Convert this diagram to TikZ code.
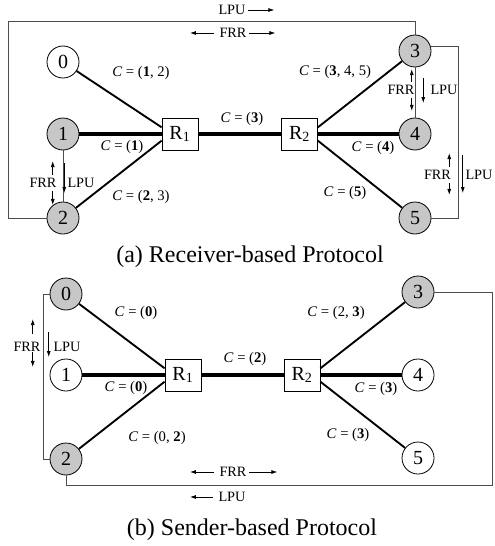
\documentclass[tikz,border=0pt]{standalone}
\usepackage{fontspec}
\setmainfont{Liberation Serif}
\usepackage{xcolor}
\usepackage{tikz}
\usetikzlibrary{arrows.meta}

\begin{document}
\begin{tikzpicture}[x=0.75pt,y=-0.75pt,
    host/.style={circle,draw,line width=0.6pt,minimum size=24pt,inner sep=0pt,fill=white,font=\fontsize{15}{15}\selectfont},
    busy/.style={host,fill=black!22},
    router/.style={rectangle,draw,line width=0.6pt,minimum width=27pt,minimum height=24pt,inner sep=0pt,fill=white,font=\fontsize{15}{15}\selectfont},
    lnk/.style={line width=1.4pt},
    trunk/.style={line width=2.4pt},
    frame/.style={line width=0.7pt,black!70},
    clab/.style={inner sep=0pt,font=\fontsize{11}{11}\selectfont},
    tag/.style={inner sep=0pt,font=\fontsize{10.7}{11}\selectfont},
    sarr/.style={line width=0.6pt,-{Latex[length=4.5pt,width=3pt]}},
    captext/.style={inner sep=0pt,font=\fontsize{18}{18}\selectfont}]
    \useasboundingbox (0,0) rectangle (494,546);

    \node[host] (a0) at (63,62) {0};
    \node[busy] (a1) at (63,134) {1};
    \node[busy] (a2) at (63,218) {2};
    \node[busy] (a3) at (415,51) {3};
    \node[busy] (a4) at (415,134) {4};
    \node[busy] (a5) at (415,218) {5};
    \node[router] (ra1) at (180,134) {R\textsubscript{1}};
    \node[router] (ra2) at (299.5,134) {R\textsubscript{2}};

    \coordinate (ka) at (8,21);
    \draw[frame] (a2) -| (ka) -| (a3);
    \draw[frame] (a1) -- (a2);
    \draw[frame] (a3) -- (a4);
    \draw[frame] (a3.15) -- ++(28,0) |- (a5);

    \draw[lnk] (a0) -- (ra1.160);
    \draw[lnk] (a2) -- (ra1.200);
    \draw[lnk] (ra2.20) -- (a3);
    \draw[lnk] (ra2.-20) -- (a5);
    \draw[trunk] (a1) -- (ra1) -- (ra2) -- (a4);

    \node[clab] at (141,73) {\textit{C} = (\textbf{1}, 2)};
    \node[clab] at (122,147) {\textit{C} = (\textbf{1})};
    \node[clab] at (141,197) {\textit{C} = (\textbf{2}, 3)};
    \node[clab] at (242,119) {\textit{C} = (\textbf{3})};
    \node[clab] at (335,72) {\textit{C} = (\textbf{3}, 4, 5)};
    \node[clab] at (373,148) {\textit{C} = (\textbf{4})};
    \node[clab] at (345,193) {\textit{C} = (\textbf{5})};

    \node[tag] (lputa) at (232,10) {LPU};
    \draw[sarr] ([xshift=2pt]lputa.east) -- ++(26,0);
    \node[tag] (frrta) at (233,33) {FRR};
    \draw[sarr] ([xshift=2pt]frrta.east) -- ++(26,0);
    \draw[sarr] ([xshift=-4pt]frrta.west) -- ++(-24,0);

    \node[tag] (frr12) at (43,183) {FRR};
    \draw[sarr] ([shift={(-4,-3)}]frr12.north east) -- ++(0,-14);
    \draw[sarr] ([shift={(-4,3)}]frr12.south east) -- ++(0,14);
    \node[tag] (lpu12) at (81,183) {LPU};
    \draw[sarr] ([shift={(-3,-20)}]lpu12.west) -- ++(0,30);

    \node[tag] (frr34) at (401,90) {FRR};
    \draw[sarr] ([shift={(-3,-3)}]frr34.north east) -- ++(0,-13);
    \draw[sarr] ([shift={(-3,3)}]frr34.south east) -- ++(0,13);
    \node[tag] (lpu34) at (444,90) {LPU};
    \draw[sarr] ([shift={(-7,-12)}]lpu34.west) -- ++(0,25);

    \node[tag] (frr45) at (437.5,175) {FRR};
    \draw[sarr] ([shift={(-2,-3)}]frr45.north east) -- ++(0,-14);
    \draw[sarr] ([shift={(-2,3)}]frr45.south east) -- ++(0,12);
    \node[tag] (lpu45) at (479,175) {LPU};
    \draw[sarr] ([shift={(-2.5,-20)}]lpu45.west) -- ++(0,38);

    \node[captext] (capa) at (250,257) {(a) Receiver-based Protocol};

    \node[busy] (b0) at (66,294) {0};
    \node[host] (b1) at (66,375) {1};
    \node[busy] (b2) at (66,459) {2};
    \node[busy] (b3) at (418,292) {3};
    \node[host] (b4) at (418,375) {4};
    \node[host] (b5) at (418,458) {5};
    \node[router] (rb1) at (183,375) {R\textsubscript{1}};
    \node[router] (rb2) at (302,375) {R\textsubscript{2}};

    \coordinate (kb) at (43,459);
    \coordinate (kc) at (492,485);
    \draw[frame] (b0) -| (kb) -- (b2);
    \draw[frame] (b2) |- (kc) |- (b3);

    \draw[lnk] (b0) -- (rb1.160);
    \draw[lnk] (b2) -- (rb1.200);
    \draw[lnk] (rb2.20) -- (b3);
    \draw[lnk] (rb2.-20) -- (b5);
    \draw[trunk] (b1) -- (rb1) -- (rb2) -- (b4);

    \node[clab] at (136,313) {\textit{C} = (\textbf{0})};
    \node[clab] at (126,388) {\textit{C} = (\textbf{0})};
    \node[clab] at (157,438) {\textit{C} = (0, \textbf{2})};
    \node[clab] at (245,359) {\textit{C} = (\textbf{2})};
    \node[clab] at (336,313) {\textit{C} = (2, \textbf{3})};
    \node[clab] at (376,389) {\textit{C} = (\textbf{3})};
    \node[clab] at (348,435) {\textit{C} = (\textbf{3})};

    \node[tag] (frrb) at (27,347) {FRR};
    \draw[sarr] ([shift={(-8,-8)}]frrb.north east) -- ++(0,-15);
    \draw[sarr] ([shift={(-8,0)}]frrb.south east) -- ++(0,15);
    \node[tag] (lpub) at (67,347) {LPU};
    \draw[sarr] ([shift={(-4.5,-15)}]lpub.west) -- ++(0,25);

    \node[tag] (frrtb) at (233,472) {FRR};
    \draw[sarr] ([xshift=2pt]frrtb.east) -- ++(28,0);
    \draw[sarr] ([xshift=-4pt]frrtb.west) -- ++(-24,0);
    \node[tag] (lputb) at (232,497) {LPU};
    \draw[sarr] ([xshift=-4pt]lputb.west) -- ++(-23,0);

    \node[captext] (capb) at (252,530) {(b) Sender-based Protocol};
\end{tikzpicture}
\end{document}
